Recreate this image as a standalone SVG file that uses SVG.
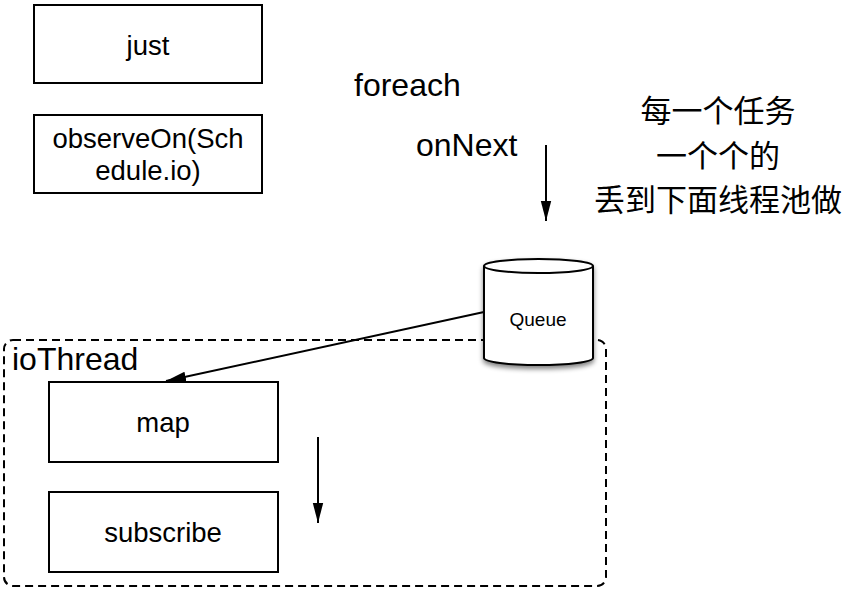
<svg xmlns="http://www.w3.org/2000/svg" width="856" height="592" viewBox="0 0 856 592">
<defs>
<style>
.box{fill:#fff;stroke:#000;stroke-width:2}
.t{font-family:"Liberation Sans",Arial,sans-serif;fill:#000}
.bt{font-size:27.5px;text-anchor:middle}
.big{font-size:32px}
.cjk{font-family:"Liberation Sans","Noto Sans CJK SC",sans-serif;font-size:31px;text-anchor:middle}
.line{stroke:#000;stroke-width:2;fill:none}
</style>
<marker id="ah2" viewBox="0 0 10 10" refX="10" refY="5" markerWidth="20" markerHeight="20" markerUnits="userSpaceOnUse" orient="auto">
<path d="M0,2.4 L10,5 L0,7.6 z" fill="#000"/>
</marker>
<filter id="sh" x="-20%" y="-20%" width="150%" height="150%">
<feGaussianBlur in="SourceAlpha" stdDeviation="2.5"/>
<feOffset dx="0" dy="3" result="b"/>
<feComponentTransfer><feFuncA type="linear" slope="0.5"/></feComponentTransfer>
<feMerge><feMergeNode/><feMergeNode in="SourceGraphic"/></feMerge>
</filter>
</defs>
<rect width="856" height="592" fill="#fff"/>

<g id="ioThread">
<rect x="4" y="340" width="602" height="246" rx="9" fill="none" stroke="#000" stroke-width="2" stroke-dasharray="8,5"/>
<text class="t big" x="12" y="370">ioThread</text>
</g>

<g id="just">
<rect class="box" x="34" y="5" width="228" height="78"/>
<text class="t bt" x="148" y="55">just</text>
</g>

<g id="observeOn">
<rect class="box" x="34" y="115" width="228" height="78"/>
<text class="t bt" x="148" y="148">observeOn(Sch</text>
<text class="t bt" x="148" y="180">edule.io)</text>
</g>

<g id="foreach"><text class="t big" x="354" y="96">foreach</text></g>
<g id="onNext"><text class="t big" x="416" y="156">onNext</text></g>

<g id="note">
<text class="t cjk" x="718" y="122">每一个任务</text>
<text class="t cjk" x="718" y="167">一个个的</text>
<text class="t cjk" x="718" y="211">丢到下面线程池做</text>
</g>

<g id="queue">
<path d="M484,266 L484,358 A54.5,7 0 0 0 593,358 L593,266 A54.5,7 0 0 0 484,266 Z" fill="#fff" stroke="#000" stroke-width="2" filter="url(#sh)"/>
<path d="M484,266 A54.5,7 0 0 0 593,266" class="line"/>
<text class="t" x="538" y="326" font-size="19" text-anchor="middle">Queue</text>
</g>

<g id="map">
<rect class="box" x="49" y="382" width="229" height="80"/>
<text class="t bt" x="163" y="432">map</text>
</g>

<g id="subscribe">
<rect class="box" x="49" y="492" width="229" height="80"/>
<text class="t bt" x="163" y="542">subscribe</text>
</g>

<g id="connectors">
<line class="line" x1="546" y1="145" x2="546" y2="221" marker-end="url(#ah2)"/>
<line class="line" x1="484" y1="312" x2="166" y2="381" marker-end="url(#ah2)"/>
<line class="line" x1="318" y1="437" x2="318" y2="523" marker-end="url(#ah2)"/>
</g>
</svg>
